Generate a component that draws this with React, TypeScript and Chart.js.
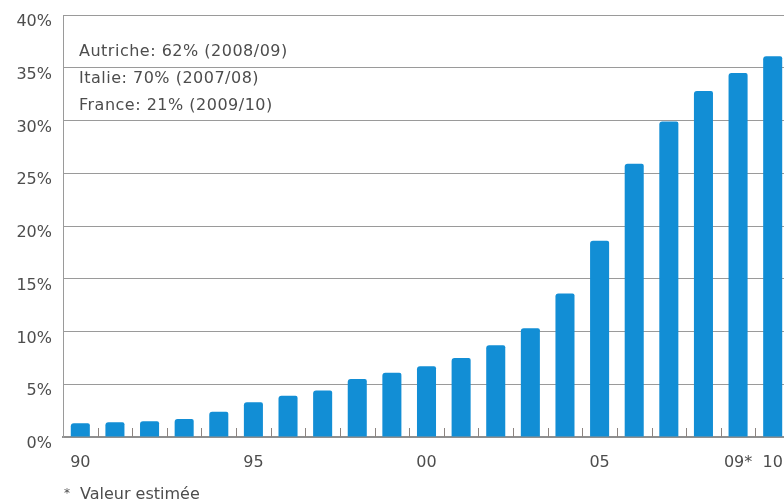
import React, { useEffect, useRef } from "react";
import { Chart, registerables } from "chart.js";

Chart.register(...registerables);

const categories = ["90","91","92","93","94","95","96","97","98","99","00","01","02","03","04","05","06","07","08","09*","10"];
const shownTicks = ["90","95","00","05","09*","10"];
const values = [1.3,1.4,1.5,1.7,2.4,3.3,3.9,4.4,5.5,6.1,6.7,7.5,8.7,10.3,13.6,18.6,25.9,29.9,32.8,34.5,36.1];
const notes = ["Autriche: 62% (2008/09)", "Italie: 70% (2007/08)", "France: 21% (2009/10)"];
const footnote = "Valeur estimée";

const FONT = "'DejaVu Sans', sans-serif";
const TEXT = "#4d4d4d";

const boundaryTicks = {
  id: "boundaryTicks",
  afterDatasetsDraw(chart: any) {
    const x = chart.scales.x;
    const area = chart.chartArea;
    const ctx = chart.ctx;
    ctx.save();
    ctx.strokeStyle = "#8c8480";
    ctx.lineWidth = 1;
    for (let i = 0; i < categories.length - 1; i++) {
      const px = Math.round((x.getPixelForValue(i) + x.getPixelForValue(i + 1)) / 2) + 0.5;
      ctx.beginPath();
      ctx.moveTo(px, area.bottom);
      ctx.lineTo(px, area.bottom - 9);
      ctx.stroke();
    }
    ctx.restore();
  },
};

export default function App() {
  const ref = useRef<HTMLCanvasElement>(null);
  useEffect(() => {
    const chart = new Chart(ref.current!, {
      type: "bar",
      data: {
        labels: categories,
        datasets: [
          {
            data: values,
            backgroundColor: "#128ed5",
            borderRadius: { topLeft: 3, topRight: 2, bottomLeft: 0, bottomRight: 0 },
            borderSkipped: "bottom",
            barPercentage: 0.55,
            categoryPercentage: 1,
          },
        ],
      },
      options: {
        responsive: false,
        animation: false,
        devicePixelRatio: 1,
        layout: { padding: { left: 0, right: 10, top: 15, bottom: 0 } },
        plugins: { legend: { display: false }, tooltip: { enabled: false } },
        scales: {
          x: {
            afterFit: (s: any) => { s.height = 65; s.paddingLeft = 0; s.paddingRight = 0; },
            grid: { display: false, drawTicks: false },
            border: { display: true, color: "#8f8f8f", width: 2 },
            ticks: {
              autoSkip: false,
              maxRotation: 0,
              padding: 16,
              color: TEXT,
              font: { family: FONT, size: 16 },
              callback: (_v: any, i: number) => (shownTicks.includes(categories[i]) ? categories[i] : ""),
            },
          },
          y: {
            min: 0,
            max: 40,
            afterFit: (s: any) => { s.width = 63; s.paddingTop = 0; s.paddingBottom = 0; },
            grid: { color: "#9a9a9a", lineWidth: 1, drawTicks: false },
            border: { display: true, color: "#9a9a9a", width: 1 },
            ticks: {
              stepSize: 5,
              padding: 11,
              labelOffset: 7,
              color: TEXT,
              font: { family: FONT, size: 16 },
              callback: (v: any) => v + "%",
            },
          },
        },
      },
      plugins: [boundaryTicks],
    });
    return () => chart.destroy();
  }, []);

  return (
    <div style={{ position: "absolute", left: 0, top: 0, width: 784, height: 502, overflow: "hidden", background: "#fff" }}>
      <canvas ref={ref} width={800} height={502} style={{ position: "absolute", left: 0, top: 0 }} />
      {notes.map((t, i) => (
        <div
          key={t}
          style={{
            position: "absolute",
            left: 79,
            top: 43 + i * 27,
            fontFamily: FONT,
            fontSize: 16,
            lineHeight: "16px",
            letterSpacing: "0.5px",
            color: TEXT,
            whiteSpace: "nowrap",
          }}
        >
          {t}
        </div>
      ))}
      <div
        style={{
          position: "absolute",
          left: 64,
          top: 485,
          fontFamily: FONT,
          fontSize: 16,
          lineHeight: "16px",
          color: TEXT,
          whiteSpace: "nowrap",
        }}
      >
        <span style={{ fontSize: 12, verticalAlign: "2px" }}>*</span>
        <span style={{ marginLeft: 10 }}>{footnote}</span>
      </div>
    </div>
  );
}
